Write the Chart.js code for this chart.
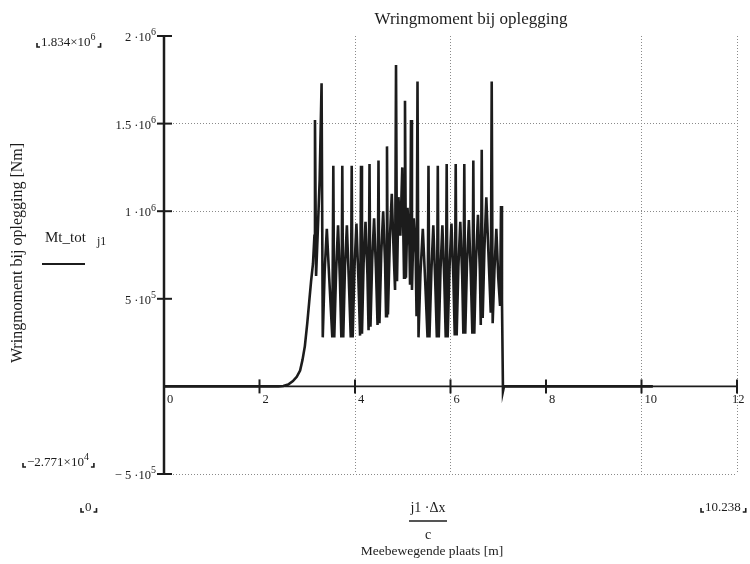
<!DOCTYPE html>
<html>
<head>
<meta charset="utf-8">
<script src="https://cdn.jsdelivr.net/npm/chart.js@4.4.1/dist/chart.umd.min.js"></script>
<style>
  html, body { margin: 0; padding: 0; background: #fff; }
  #wrap { width: 750px; height: 564px; }
</style>
</head>
<body>
<div id="wrap"><canvas id="wringChart"></canvas></div>
<script>
// Positie langs de plaat [m]
const plaats = [
  0, 1.0, 2.0, 2.40, 2.50, 2.60, 2.70, 2.78, 2.85, 2.90, 2.95, 3.00, 3.04, 3.08, 3.12, 3.15,
  3.162, 3.185, 3.22, 3.26, 3.30, 3.325, 3.365, 3.41, 3.46, 3.525,
  3.546, 3.566, 3.605, 3.645, 3.685, 3.714,
  3.734, 3.754, 3.79, 3.83, 3.87, 3.911,
  3.931, 3.951, 3.99, 4.03, 4.07, 4.106,
  4.126, 4.146, 4.18, 4.22, 4.26, 4.284,
  4.304, 4.324, 4.36, 4.40, 4.44, 4.472,
  4.492, 4.512, 4.55, 4.59, 4.63, 4.65,
  4.670, 4.69, 4.73, 4.77, 4.81, 4.839,
  4.859, 4.88, 4.91, 4.95, 4.99, 5.027,
  5.047, 5.067, 5.10, 5.14, 5.153,
  5.173, 5.193, 5.23, 5.27, 5.289,
  5.309, 5.33, 5.37, 5.42, 5.47, 5.519,
  5.539, 5.559, 5.60, 5.64, 5.68, 5.714,
  5.734, 5.754, 5.79, 5.83, 5.87, 5.90,
  5.920, 5.94, 5.98, 6.02, 6.06, 6.089,
  6.109, 6.129, 6.165, 6.205, 6.245, 6.269,
  6.289, 6.309, 6.345, 6.385, 6.425, 6.458,
  6.478, 6.498, 6.535, 6.575, 6.615, 6.634,
  6.654, 6.674, 6.71, 6.75, 6.80, 6.843,
  6.863, 6.883, 6.92, 6.96, 7.00, 7.038,
  7.058, 7.078, 7.099, 7.12, 10.238
];

// Wringmoment bij oplegging [Nm]
const mtTot = [
  0, 0, 0, 0, 2e3, 1.1e4, 3.0e4, 5.5e4, 9.0e4, 1.5e5, 2.3e5, 3.6e5, 4.8e5, 6.0e5, 7.0e5, 8.6e5,
  1.52e6, 6.3e5, 8.8e5, 1.18e6, 1.73e6, 2.8e5, 6.6e5, 9.0e5, 6.2e5, 2.8e5,
  1.26e6, 2.8e5, 6.6e5, 9.2e5, 6.0e5, 2.8e5,
  1.26e6, 2.8e5, 6.8e5, 9.2e5, 6.1e5, 2.8e5,
  1.26e6, 2.8e5, 6.8e5, 9.3e5, 6.2e5, 2.9e5,
  1.26e6, 3.0e5, 7.0e5, 9.4e5, 6.4e5, 3.2e5,
  1.27e6, 3.4e5, 7.2e5, 9.6e5, 6.6e5, 3.5e5,
  1.29e6, 3.6e5, 7.6e5, 1.0e6, 7.0e5, 4.0e5,
  1.37e6, 4.1e5, 8.4e5, 1.1e6, 7.6e5, 5.5e5,
  1.834e6, 6.0e5, 1.08e6, 8.6e5, 1.25e6, 6.2e5,
  1.63e6, 6.2e5, 1.02e6, 8.0e5, 5.8e5,
  1.52e6, 5.5e5, 9.6e5, 7.6e5, 4.0e5,
  1.74e6, 2.8e5, 6.4e5, 9.0e5, 6.0e5, 2.8e5,
  1.26e6, 2.8e5, 6.6e5, 9.2e5, 6.0e5, 2.8e5,
  1.26e6, 2.8e5, 6.6e5, 9.2e5, 6.1e5, 2.8e5,
  1.27e6, 2.8e5, 6.8e5, 9.3e5, 6.2e5, 2.9e5,
  1.27e6, 2.9e5, 6.8e5, 9.4e5, 6.3e5, 3.0e5,
  1.27e6, 3.0e5, 7.0e5, 9.5e5, 6.4e5, 3.0e5,
  1.29e6, 3.0e5, 7.2e5, 9.8e5, 6.6e5, 3.5e5,
  1.35e6, 3.9e5, 7.8e5, 1.08e6, 7.2e5, 4.2e5,
  1.74e6, 3.6e5, 6.6e5, 9.0e5, 6.2e5, 4.6e5,
  1.03e6, 4.9e5, -2.771e4, 0, 0
];

// As-ticks en hun labels (basis + exponent)
const xTicks = [0, 2, 4, 6, 8, 10, 12];
const yTicks = [2e6, 1.5e6, 1e6, 5e5, -5e5];
const yTickBase = ['2 \u00b710', '1.5 \u00b710', '1 \u00b710', '5 \u00b710', '\u2212 5 \u00b710'];
const yTickExp = ['6', '6', '6', '5', '5'];
const xGridAt = [4, 6, 10, 12];
const yGridAt = [1.5e6, 1e6, -5e5];

const SERIF = '"Liberation Serif", "DejaVu Serif", serif';
const INK = '#1c1c1c';

// tekst met superscript exponent, rechts uitgelijnd op xRight
function supText(ctx, base, exp, xRight, y, size) {
  const es = Math.round(size * 0.78);
  ctx.font = size + 'px ' + SERIF;
  const wb = ctx.measureText(base).width;
  ctx.font = es + 'px ' + SERIF;
  const we = ctx.measureText(exp).width;
  ctx.textAlign = 'left';
  ctx.textBaseline = 'alphabetic';
  ctx.font = size + 'px ' + SERIF;
  ctx.fillText(base, xRight - wb - we, y);
  ctx.font = es + 'px ' + SERIF;
  ctx.fillText(exp, xRight - we, y - size * 0.45);
}

// bereikwaarde van Mathcad met hoekjes
function rangeLabel(ctx, base, exp, x, y) {
  ctx.font = '13px ' + SERIF;
  const wb = ctx.measureText(base).width;
  ctx.font = '10px ' + SERIF;
  const we = exp ? ctx.measureText(exp).width : 0;
  ctx.textAlign = 'left';
  ctx.textBaseline = 'alphabetic';
  ctx.font = '13px ' + SERIF;
  ctx.fillText(base, x + 5, y);
  if (exp) {
    ctx.font = '10px ' + SERIF;
    ctx.fillText(exp, x + 5 + wb, y - 6);
  }
  const xr = x + 5 + wb + we + 2;
  ctx.lineWidth = 1.6;
  ctx.beginPath();
  ctx.moveTo(x + 1, y - 3); ctx.lineTo(x + 1, y + 1); ctx.lineTo(x + 4, y + 1);
  ctx.moveTo(xr, y + 1); ctx.lineTo(xr + 3, y + 1); ctx.lineTo(xr + 3, y - 3);
  ctx.stroke();
}

const mathcadAxes = {
  id: 'mathcadAxes',
  afterDatasetsDraw(chart) {
    const { ctx, chartArea: a, scales: { x, y } } = chart;
    const x0 = x.getPixelForValue(0);
    const y0 = y.getPixelForValue(0);
    ctx.save();
    ctx.strokeStyle = INK;
    ctx.fillStyle = INK;

    // assen door de oorsprong
    ctx.lineWidth = 2.5;
    ctx.beginPath();
    ctx.moveTo(x0, a.top); ctx.lineTo(x0, a.bottom);
    ctx.stroke();
    ctx.lineWidth = 1.8;
    ctx.beginPath();
    ctx.moveTo(a.left, y0); ctx.lineTo(a.right, y0);
    ctx.stroke();

    // streepjes op de assen
    ctx.lineWidth = 2;
    yTicks.forEach(v => {
      const py = y.getPixelForValue(v);
      ctx.beginPath(); ctx.moveTo(x0 - 7, py); ctx.lineTo(x0 + 8, py); ctx.stroke();
    });
    xTicks.forEach(v => {
      const px = x.getPixelForValue(v);
      ctx.beginPath(); ctx.moveTo(px, y0 - 7); ctx.lineTo(px, y0 + 7); ctx.stroke();
    });

    // waarden langs de y-as
    yTicks.forEach((v, i) => {
      supText(ctx, yTickBase[i], yTickExp[i], x0 - 8, y.getPixelForValue(v) + 5, 12.5);
    });
    // waarden langs de x-as
    ctx.font = '12.5px ' + SERIF;
    ctx.textAlign = 'left';
    ctx.textBaseline = 'top';
    xTicks.forEach(v => {
      const px = x.getPixelForValue(v);
      ctx.fillText(String(v), v === 12 ? px - 5 : px + 3, y0 + 7);
    });

    // titel
    ctx.font = '17px ' + SERIF;
    ctx.textAlign = 'center';
    ctx.textBaseline = 'middle';
    ctx.fillText('Wringmoment bij oplegging', 471, 20);

    // y-astitel
    ctx.save();
    ctx.translate(18, 253);
    ctx.rotate(-Math.PI / 2);
    ctx.font = '16px ' + SERIF;
    ctx.fillText('Wringmoment bij oplegging [Nm]', 0, 0);
    ctx.restore();

    // naam van de reeks met lijnstukje
    ctx.font = '15px ' + SERIF;
    ctx.textAlign = 'left';
    ctx.textBaseline = 'alphabetic';
    ctx.fillText('Mt_tot', 45, 242);
    ctx.font = '12px ' + SERIF;
    ctx.fillText('j1', 97, 245);
    ctx.lineWidth = 2;
    ctx.beginPath(); ctx.moveTo(42, 264); ctx.lineTo(85, 264); ctx.stroke();

    // x-astitel als breuk
    ctx.font = '14px ' + SERIF;
    ctx.textAlign = 'center';
    ctx.fillText('j1 \u00b7\u0394x', 428, 512);
    ctx.lineWidth = 1.5;
    ctx.beginPath(); ctx.moveTo(409, 521); ctx.lineTo(447, 521); ctx.stroke();
    ctx.fillText('c', 428, 539);
    ctx.font = '13.5px ' + SERIF;
    ctx.fillText('Meebewegende plaats [m]', 432, 555);

    // bereik van de getoonde data
    rangeLabel(ctx, '1.834\u00d710', '6', 36, 46);
    rangeLabel(ctx, '\u22122.771\u00d710', '4', 22, 466);
    rangeLabel(ctx, '0', '', 80, 511);
    rangeLabel(ctx, '10.238', '', 700, 511);

    ctx.restore();
  }
};

new Chart(document.getElementById('wringChart'), {
  type: 'line',
  data: {
    datasets: [{
      label: 'Mt_tot',
      data: plaats.map((p, i) => ({ x: p, y: mtTot[i] })),
      borderColor: INK,
      borderWidth: 2.6,
      pointRadius: 0,
      tension: 0,
      fill: false,
    }],
  },
  options: {
    responsive: true,
    maintainAspectRatio: false,
    animation: false,
    events: [],
    layout: { padding: { left: 164, right: 13, top: 36, bottom: 90 } },
    plugins: {
      legend: { display: false },
      title: { display: false },
      tooltip: { enabled: false },
    },
    scales: {
      x: {
        type: 'linear',
        min: 0,
        max: 12,
        ticks: { display: false, stepSize: 1 },
        grid: {
          drawTicks: false,
          lineWidth: 1,
          color: c => xGridAt.includes(c.tick.value) ? '#8a8a8a' : 'transparent',
        },
        border: { display: false, dash: [1, 2] },
      },
      y: {
        min: -5e5,
        max: 2e6,
        ticks: { display: false, stepSize: 5e5 },
        grid: {
          drawTicks: false,
          lineWidth: 1,
          color: c => yGridAt.includes(c.tick.value) ? '#8a8a8a' : 'transparent',
        },
        border: { display: false, dash: [1, 2] },
      },
    },
  },
  plugins: [mathcadAxes],
});
</script>
</body>
</html>
